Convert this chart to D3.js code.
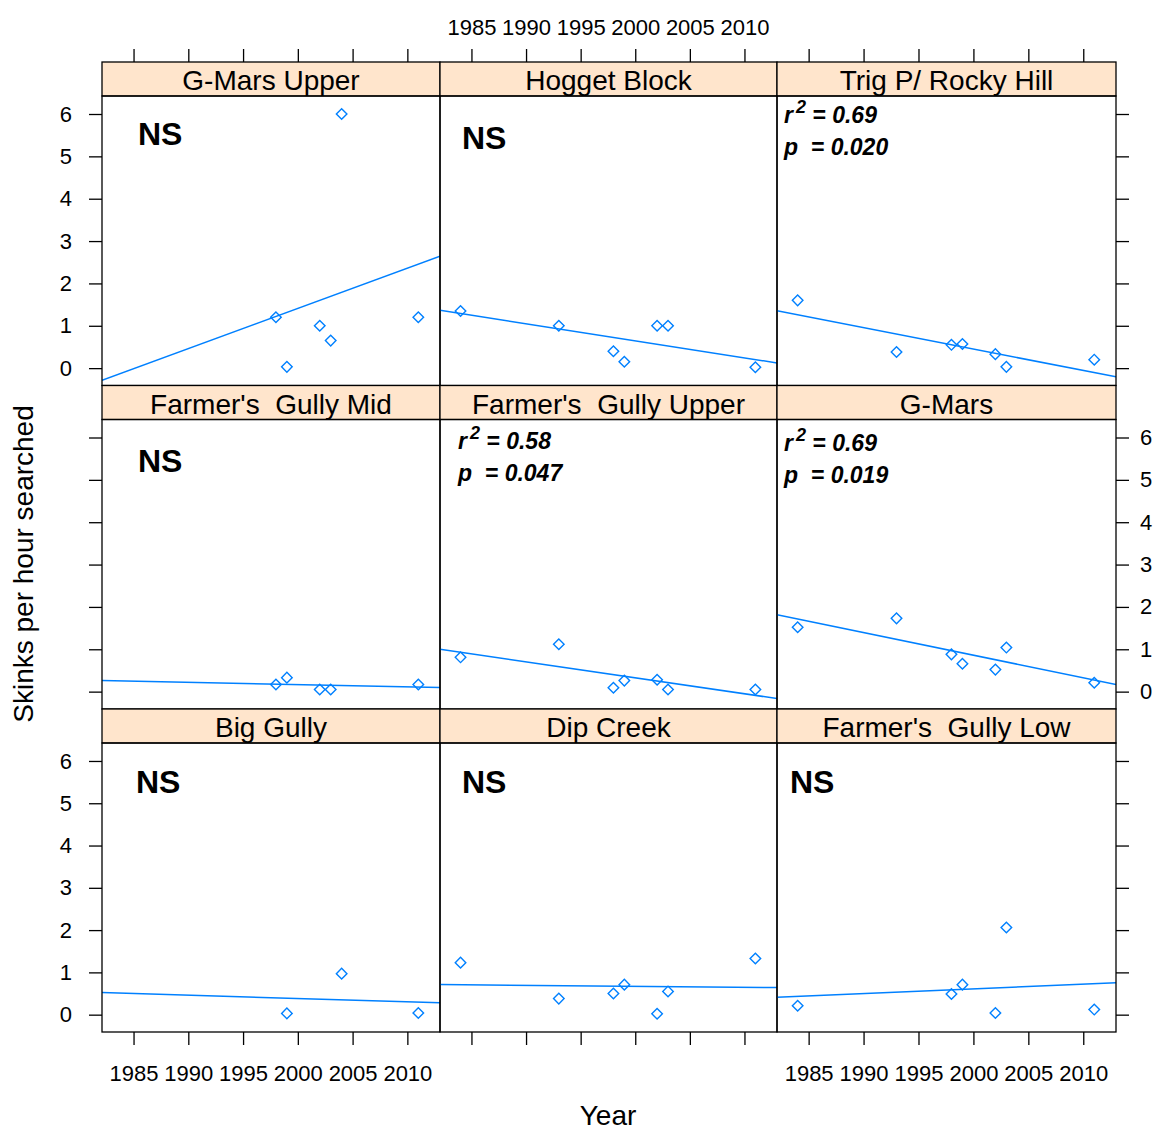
<!DOCTYPE html>
<html>
<head>
<meta charset="utf-8">
<script src="https://cdn.jsdelivr.net/npm/d3@7"></script>
<style>
  body { margin: 0; background: #fff; }
  text { font-family: "Liberation Sans", Arial, sans-serif; fill: #000; white-space: pre; }
</style>
</head>
<body>
<svg id="chart" width="1155" height="1131"></svg>
<script>
// panels, in reading order (top-left first)
const sites = [
  "G-Mars Upper", "Hogget Block", "Trig P/ Rocky Hill",
  "Farmer's  Gully Mid", "Farmer's  Gully Upper", "G-Mars",
  "Big Gully", "Dip Creek", "Farmer's  Gully Low"
];
const surveyYears = [
  [1998, 1999, 2002, 2003, 2004, 2011],
  [1984, 1993, 1998, 1999, 2002, 2003, 2011],
  [1984, 1993, 1998, 1999, 2002, 2003, 2011],
  [1998, 1999, 2002, 2003, 2011],
  [1984, 1993, 1998, 1999, 2002, 2003, 2011],
  [1984, 1993, 1998, 1999, 2002, 2003, 2011],
  [1999, 2004, 2011],
  [1984, 1993, 1998, 1999, 2002, 2003, 2011],
  [1984, 1998, 1999, 2002, 2003, 2011]
];
const skinksPerHour = [
  [1.2, 0.03, 1.0, 0.65, 6.0, 1.2],
  [1.35, 1.0, 0.4, 0.15, 1.0, 1.0, 0.02],
  [1.6, 0.38, 0.55, 0.57, 0.33, 0.03, 0.2],
  [0.17, 0.33, 0.05, 0.05, 0.17],
  [0.81, 1.12, 0.09, 0.26, 0.28, 0.05, 0.05],
  [1.52, 1.73, 0.88, 0.66, 0.52, 1.04, 0.21],
  [0.03, 0.97, 0.04],
  [1.23, 0.38, 0.5, 0.71, 0.02, 0.55, 1.33],
  [0.21, 0.49, 0.71, 0.04, 2.06, 0.12]
];
const r2Labels = [null, null, "0.69", null, "0.58", "0.69", null, null, null];
const pLabels = [null, null, "0.020", null, "0.047", "0.019", null, null, null];
const yearTicks = [1985, 1990, 1995, 2000, 2005, 2010];
const countTicks = [0, 1, 2, 3, 4, 5, 6];

// layout
const colEdges = [102, 440, 777, 1116];
const rowEdges = [62, 385.5, 709, 1032];
const stripH = 34;
const xDomain = [1982.12, 2012.98];
const yDomain = [-0.41, 6.425];
const blue = "#0080ff";
// where the NS / r2 text sits inside each panel: [dx, dy] from the panel's top-left
const notePos = [[36, 49], [22, 53], [7, 27], [36, 52], [18, 29], [7, 31], [34, 50], [22, 50], [13, 50]];

const svg = d3.select("#chart");
const xScale = c => d3.scaleLinear().domain(xDomain).range([colEdges[c], colEdges[c + 1]]);
const yScale = r => d3.scaleLinear().domain(yDomain).range([rowEdges[r + 1], rowEdges[r] + stripH]);

const defs = svg.append("defs");

sites.forEach((site, i) => {
  const c = i % 3, r = Math.floor(i / 3);
  const x = xScale(c), y = yScale(r);
  const left = colEdges[c], right = colEdges[c + 1];
  const stripTop = rowEdges[r], top = rowEdges[r] + stripH, bottom = rowEdges[r + 1];

  // strip
  svg.append("rect")
    .attr("x", left).attr("y", stripTop)
    .attr("width", right - left).attr("height", stripH)
    .attr("fill", "#ffe5cc").attr("stroke", "#000").attr("stroke-width", 1.3);
  svg.append("text")
    .attr("x", (left + right) / 2).attr("y", stripTop + 28)
    .attr("text-anchor", "middle").attr("font-size", 28)
    .attr("fill", "#111")
    .text(site);

  defs.append("clipPath").attr("id", "clip" + i)
    .append("rect").attr("x", left).attr("y", top)
    .attr("width", right - left).attr("height", bottom - top);

  const pts = surveyYears[i].map((yr, k) => ({ year: yr, value: skinksPerHour[i][k] }));

  // least squares fit
  const mx = d3.mean(pts, d => d.year), my = d3.mean(pts, d => d.value);
  const sxy = d3.sum(pts, d => (d.year - mx) * (d.value - my));
  const sxx = d3.sum(pts, d => (d.year - mx) * (d.year - mx));
  const slope = sxy / sxx;
  const fit = xDomain.map(yr => ({ year: yr, value: my + slope * (yr - mx) }));

  svg.append("path")
    .datum(fit)
    .attr("clip-path", "url(#clip" + i + ")")
    .attr("fill", "none").attr("stroke", blue).attr("stroke-width", 1.5)
    .attr("d", d3.line().x(d => x(d.year)).y(d => y(d.value)));

  svg.append("g").selectAll("path")
    .data(pts)
    .enter()
    .append("path")
    .attr("d", d3.symbol().type(d3.symbolSquare).size(56))
    .attr("transform", d => "translate(" + x(d.year) + "," + y(d.value) + ") rotate(45)")
    .attr("fill", "none").attr("stroke", blue).attr("stroke-width", 1.4);

  // panel border
  svg.append("rect")
    .attr("x", left).attr("y", top)
    .attr("width", right - left).attr("height", bottom - top)
    .attr("fill", "none").attr("stroke", "#000").attr("stroke-width", 1.3);

  // annotation
  const nx = left + notePos[i][0], ny = top + notePos[i][1];
  if (r2Labels[i] === null) {
    svg.append("text")
      .attr("x", nx).attr("y", ny)
      .attr("font-size", 32).attr("font-weight", "bold")
      .text("NS");
  } else {
    const t1 = svg.append("text")
      .attr("x", nx).attr("y", ny)
      .attr("font-size", 23).attr("font-weight", "bold").attr("font-style", "italic")
      .attr("fill", "#222");
    t1.append("tspan").text("r");
    t1.append("tspan").attr("dx", 3).attr("dy", -10).attr("font-size", 18).text("2");
    t1.append("tspan").attr("dy", 10).text(" = " + r2Labels[i]);
    svg.append("text")
      .attr("x", nx).attr("y", ny + 32)
      .attr("font-size", 23).attr("font-weight", "bold").attr("font-style", "italic")
      .attr("fill", "#222")
      .text("p  = " + pLabels[i]);
  }
});

function styleAxis(g) {
  g.select(".domain").remove();
  g.selectAll(".tick line").attr("stroke", "#000").attr("stroke-width", 1.3);
  g.selectAll(".tick text").attr("font-size", 22).attr("fill", "#111")
    .style("font-family", '"Liberation Sans", Arial, sans-serif');
}

// x axes: top of first row, bottom of last row
[0, 1, 2].forEach(c => {
  const x = xScale(c);
  svg.append("g")
    .attr("transform", "translate(0," + rowEdges[0] + ")")
    .call(d3.axisTop(x).tickValues(yearTicks).tickSize(13).tickPadding(14)
      .tickFormat(c === 1 ? d3.format("d") : ""))
    .call(styleAxis);
  svg.append("g")
    .attr("transform", "translate(0," + rowEdges[3] + ")")
    .call(d3.axisBottom(x).tickValues(yearTicks).tickSize(13).tickPadding(20)
      .tickFormat(c !== 1 ? d3.format("d") : ""))
    .call(styleAxis);
});

// y axes: left and right of each row
[0, 1, 2].forEach(r => {
  const y = yScale(r);
  svg.append("g")
    .attr("transform", "translate(" + colEdges[0] + ",0)")
    .call(d3.axisLeft(y).tickValues(countTicks).tickSize(13).tickPadding(17)
      .tickFormat(r !== 1 ? d3.format("d") : ""))
    .call(styleAxis);
  svg.append("g")
    .attr("transform", "translate(" + colEdges[3] + ",0)")
    .call(d3.axisRight(y).tickValues(countTicks).tickSize(13).tickPadding(11)
      .tickFormat(r === 1 ? d3.format("d") : ""))
    .call(styleAxis);
});

// axis titles
svg.append("text")
  .attr("x", 608).attr("y", 1125)
  .attr("text-anchor", "middle").attr("font-size", 28)
  .attr("fill", "#111")
  .text("Year");
svg.append("text")
  .attr("transform", "translate(33,564) rotate(-90)")
  .attr("text-anchor", "middle").attr("font-size", 28)
  .attr("fill", "#111")
  .text("Skinks per hour searched");
</script>
</body>
</html>
